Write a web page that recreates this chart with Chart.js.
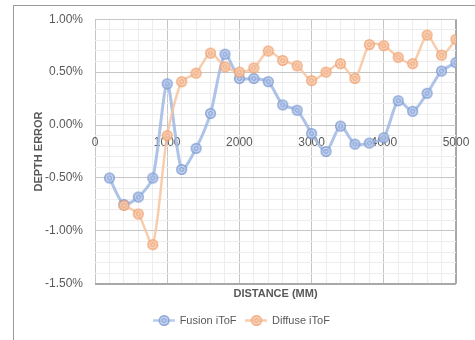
<!DOCTYPE html>
<html lang="en">
  <head>
    <meta charset="UTF-8" />
    <title>Depth error vs distance</title>
    <script src="https://cdn.jsdelivr.net/npm/chart.js@4.4.1/dist/chart.umd.min.js"></script>
    <style>
      body { margin: 0; background: #fff; }
      #wrap { position: relative; width: 475px; height: 340px; overflow: hidden; }
      #frame { position: absolute; left: 13px; top: 5px; width: 520px; height: 400px; border: 1px solid #9a9a9a; }
      canvas { position: absolute; left: 0; top: 0; }
    </style>
  </head>
  <body>
    <div id="wrap">
      <div id="frame"></div>
      <canvas id="myChart" width="475" height="340"></canvas>
    </div>

    <script>
      // distances in mm, errors in percent
      const distance = [200, 400, 600, 800, 1000, 1200, 1400, 1600, 1800, 2000, 2200, 2400, 2600,
        2800, 3000, 3200, 3400, 3600, 3800, 4000, 4200, 4400, 4600, 4800, 5000];
      const fusionErr = [-0.50, -0.75, -0.68, -0.50, 0.39, -0.42, -0.22, 0.11, 0.67, 0.44, 0.44, 0.41, 0.19,
        0.14, -0.08, -0.25, -0.01, -0.18, -0.17, -0.12, 0.23, 0.13, 0.30, 0.51, 0.59];
      const diffuseErr = [null, -0.76, -0.84, -1.13, -0.10, 0.41, 0.49, 0.68, 0.55, 0.50, 0.54, 0.70, 0.61,
        0.56, 0.42, 0.50, 0.58, 0.44, 0.76, 0.75, 0.64, 0.58, 0.85, 0.66, 0.81];

      const textGray = "#595959";
      const majorGrid = "#c6c6c6";
      const minorGrid = "#ededed";
      const edgeGrid = "#a8a8a8";

      // ringed marker like the excel one
      function makeMarker(stroke, fill, withLine) {
        const c = document.createElement("canvas");
        c.width = withLine ? 22 : 13;
        c.height = 13;
        const g = c.getContext("2d");
        const cx = c.width / 2, cy = 6.5;
        if (withLine) {
          g.strokeStyle = fill;
          g.lineWidth = 2.5;
          g.beginPath();
          g.moveTo(0, cy);
          g.lineTo(c.width, cy);
          g.stroke();
        }
        g.globalAlpha = 0.85;
        g.fillStyle = fill;
        g.strokeStyle = stroke;
        g.lineWidth = 1.4;
        g.beginPath();
        g.arc(cx, cy, 4.8, 0, Math.PI * 2);
        g.fill();
        g.stroke();
        g.lineWidth = 1;
        g.beginPath();
        g.arc(cx, cy, 2, 0, Math.PI * 2);
        g.stroke();
        return c;
      }

      const blueMarker = makeMarker("#7896d0", "#bccdec", false);
      const orangeMarker = makeMarker("#ee9f6c", "#f8cdb0", false);
      const blueLegend = makeMarker("#7896d0", "#bccdec", true);
      const orangeLegend = makeMarker("#ee9f6c", "#f8cdb0", true);

      const isMajorY = (v) => Math.abs(v * 2 - Math.round(v * 2)) < 1e-6;

      const ctx = document.getElementById("myChart").getContext("2d");
      new Chart(ctx, {
        type: "line",
        data: {
          datasets: [
            {
              label: "Fusion iToF",
              data: distance.map((d, i) => ({ x: d, y: fusionErr[i] })),
              borderColor: "rgba(160,185,228,0.85)",
              borderWidth: 3,
              tension: 0.25,
              pointStyle: blueMarker,
              order: 1
            },
            {
              label: "Diffuse iToF",
              data: distance.map((d, i) => ({ x: d, y: diffuseErr[i] })),
              borderColor: "rgba(246,196,160,0.85)",
              borderWidth: 2.5,
              tension: 0.25,
              pointStyle: orangeMarker,
              order: 0
            }
          ]
        },
        options: {
          responsive: false,
          animation: false,
          layout: { padding: { left: 28, right: 19, top: 18, bottom: 4 } },
          font: { family: "'Liberation Sans', Arial, sans-serif", size: 11 },
          scales: {
            x: {
              type: "linear",
              position: { y: 0 },
              min: 0,
              max: 5000,
              border: { display: false },
              grid: {
                drawTicks: true,
                tickLength: 8,
                tickColor: "transparent",
                color: (c) => c.tick.value === 5000 ? edgeGrid : (c.tick.value % 1000 === 0 ? majorGrid : minorGrid),
                lineWidth: (c) => c.tick.value === 5000 ? 2 : 1
              },
              ticks: {
                stepSize: 200,
                autoSkip: false,
                maxRotation: 0,
                padding: 2,
                color: textGray,
                callback: (v) => (v % 1000 === 0 ? String(v) : "")
              }
            },
            x2: {
              type: "linear",
              position: "bottom",
              grid: { display: false, drawTicks: false },
              border: { display: false },
              ticks: { display: false },
              title: {
                display: true,
                text: "DISTANCE (MM)",
                color: textGray,
                font: { weight: "bold", size: 11 },
                padding: { top: 4, bottom: 4 }
              }
            },
            y: {
              min: -1.5,
              max: 1,
              border: { display: false },
              afterFit: (s) => { s.width = 67; },
              grid: {
                drawTicks: false,
                color: (c) => Math.abs(c.tick.value + 1.5) < 1e-6 ? edgeGrid : (isMajorY(c.tick.value) ? majorGrid : minorGrid),
                lineWidth: (c) => Math.abs(c.tick.value + 1.5) < 1e-6 ? 2 : 1
              },
              ticks: {
                stepSize: 0.1,
                autoSkip: false,
                padding: 12,
                color: textGray,
                callback: (v) => (isMajorY(v) ? v.toFixed(2) + "%" : "")
              },
              title: {
                display: true,
                text: "DEPTH ERROR",
                color: textGray,
                font: { weight: "bold", size: 11 },
                padding: { top: 4, bottom: 0 }
              }
            }
          },
          plugins: {
            tooltip: { enabled: false },
            legend: {
              position: "bottom",
              labels: {
                usePointStyle: true,
                pointStyleWidth: 20,
                color: textGray,
                font: { size: 11 },
                padding: 10,
                sort: (a, b) => a.datasetIndex - b.datasetIndex,
                generateLabels: (chart) =>
                  Chart.defaults.plugins.legend.labels.generateLabels(chart).map((item) => {
                    item.pointStyle = item.datasetIndex === 0 ? blueLegend : orangeLegend;
                    return item;
                  })
              }
            }
          }
        }
      });
    </script>
  </body>
</html>
